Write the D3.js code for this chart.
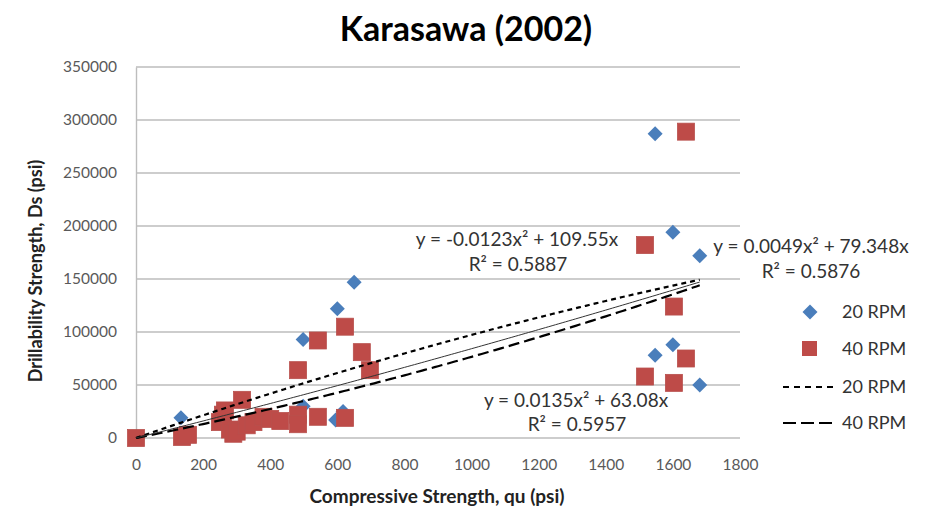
<!DOCTYPE html>
<html>
<head>
<meta charset="utf-8">
<script src="https://cdn.jsdelivr.net/npm/d3@7/dist/d3.min.js"></script>
<style>
  html, body { margin: 0; padding: 0; background: #fff; }
  svg text { font-family: Lato, "Open Sans", sans-serif; }
</style>
</head>
<body>
<svg id="chart" width="930" height="510"></svg>
<script>
// Compressive strength (psi) vs drillability strength (psi)
const rpm20X = [134, 498, 498, 600, 650, 595, 617, 1547, 1600, 1680, 1547, 1600, 1680];
const rpm20Y = [19000, 93000, 30000, 122000, 147000, 17000, 25000, 287000, 194000, 172000, 78000, 88000, 50000];

const rpm40X = [0, 137, 155, 250, 259, 265, 280, 290, 300, 316, 330, 350, 380, 400, 430, 483, 483, 483, 542, 542, 623, 623, 673, 697,
                1517, 1517, 1603, 1603, 1639, 1639];
const rpm40Y = [0, 1000, 3000, 15000, 22000, 26000, 8000, 4000, 6000, 36000, 12000, 15000, 20000, 18000, 16000, 64000, 22000, 13000,
                92000, 20000, 105000, 19000, 81000, 64000,
                182000, 58000, 124000, 52000, 289000, 75000];

// Polynomial trendlines through the origin: y = a*x^2 + b*x
const trendNames = ["20 RPM", "40 RPM", "All"];
const trendA = [-0.0123, 0.0135, 0.0049];
const trendB = [109.55, 63.08, 79.348];
const trendR2 = ["0.5887", "0.5957", "0.5876"];
const trendXMax = 1680;

const xTicks = [0, 200, 400, 600, 800, 1000, 1200, 1400, 1600, 1800];
const yTicks = [0, 50000, 100000, 150000, 200000, 250000, 300000, 350000];

(function draw() {
  const svg = d3.select("#chart");
  const pLeft = 136, pRight = 740, pTop = 67, pBottom = 438;

  const x = d3.scaleLinear().domain([0, 1800]).range([pLeft, pRight]);
  const y = d3.scaleLinear().domain([0, 350000]).range([pBottom, pTop]);

  // Title
  svg.append("text")
    .attr("x", 466).attr("y", 41)
    .attr("text-anchor", "middle")
    .attr("font-size", 34).attr("font-weight", 700).attr("fill", "#000")
    .text("Karasawa (2002)");

  // Horizontal gridlines
  svg.append("g")
    .selectAll("line").data(yTicks).join("line")
    .attr("x1", pLeft).attr("x2", pRight)
    .attr("y1", d => y(d)).attr("y2", d => y(d))
    .attr("stroke", "#bdbdbd").attr("stroke-width", 1.4);

  // Y axis
  const yAxis = svg.append("g")
    .attr("transform", `translate(${pLeft},0)`)
    .call(d3.axisLeft(y).tickValues(yTicks).tickFormat(d3.format("d")).tickSize(0).tickPadding(19));
  yAxis.select(".domain").attr("stroke", "#bdbdbd").attr("stroke-width", 1.4);
  yAxis.selectAll("text").attr("font-size", 15.5).attr("fill", "#595959")
    .attr("font-family", "Lato, sans-serif");

  // X axis
  const xAxis = svg.append("g")
    .attr("transform", `translate(0,${pBottom})`)
    .call(d3.axisBottom(x).tickValues(xTicks).tickFormat(d3.format("d")).tickSize(0).tickPadding(21));
  xAxis.select(".domain").remove();
  xAxis.selectAll("text").attr("font-size", 15.5).attr("fill", "#595959")
    .attr("font-family", "Lato, sans-serif");

  // Axis titles
  svg.append("text")
    .attr("x", 437).attr("y", 503)
    .attr("text-anchor", "middle")
    .attr("font-size", 19).attr("font-weight", 700).attr("fill", "#222")
    .text("Compressive Strength, qu (psi)");
  svg.append("text")
    .attr("transform", "translate(42,271) rotate(-90)")
    .attr("text-anchor", "middle")
    .attr("font-size", 18).attr("font-weight", 700).attr("fill", "#222")
    .text("Drillability Strength, Ds (psi)");

  const blue = "#4a7ebb", red = "#be4b48";

  // 20 RPM points (diamonds)
  const r = 7.5;
  const diamondPath = `M0,${-r}L${r},0L0,${r}L${-r},0Z`;
  svg.append("g")
    .selectAll("path").data(d3.range(rpm20X.length)).join("path")
    .attr("d", diamondPath)
    .attr("transform", i => `translate(${x(rpm20X[i])},${y(rpm20Y[i])})`)
    .attr("fill", blue);

  // 40 RPM points (squares)
  const sq = 17;
  svg.append("g")
    .selectAll("rect").data(d3.range(rpm40X.length)).join("rect")
    .attr("x", i => x(rpm40X[i]) - sq / 2)
    .attr("y", i => y(rpm40Y[i]) - sq / 2)
    .attr("width", sq).attr("height", sq)
    .attr("fill", red).attr("stroke", "#b8504d").attr("stroke-width", 0.8);

  // Trendlines
  const xs = d3.range(0, trendXMax + 1, 10);
  const line = d3.line().x(d => x(d[0])).y(d => y(d[1]));
  const dashes = ["5,4", "11,5", null];
  const widths = [2.2, 2.2, 1];
  trendNames.forEach((name, k) => {
    const pts = xs.map(v => [v, trendA[k] * v * v + trendB[k] * v]);
    svg.append("path")
      .attr("d", line(pts))
      .attr("fill", "none")
      .attr("stroke", k === 2 ? "#333" : "#000")
      .attr("stroke-width", widths[k])
      .attr("stroke-dasharray", dashes[k]);
  });

  // Trendline equations
  function fmtEq(k) {
    const a = trendA[k];
    return "y = " + (a < 0 ? "-" : "") + Math.abs(a) + "x\u00B2 + " + trendB[k] + "x";
  }
  const eqPos = [[517, 246, 518, 271], [576, 407, 577, 431], [811, 253, 811, 278]];
  trendNames.forEach((name, k) => {
    const p = eqPos[k];
    svg.append("text").attr("x", p[0]).attr("y", p[1]).attr("text-anchor", "middle")
      .attr("font-size", 19).attr("fill", "#333").text(fmtEq(k));
    svg.append("text").attr("x", p[2]).attr("y", p[3]).attr("text-anchor", "middle")
      .attr("font-size", 19).attr("fill", "#333").text("R\u00B2 = " + trendR2[k]);
  });

  // Legend
  const lg = svg.append("g");
  const legendRows = [
    { label: "20 RPM", kind: "diamond", y: 312 },
    { label: "40 RPM", kind: "square", y: 349 },
    { label: "20 RPM", kind: "dash20", y: 387 },
    { label: "40 RPM", kind: "dash40", y: 423 }
  ];
  legendRows.forEach(row => {
    if (row.kind === "diamond") {
      lg.append("path").attr("d", diamondPath)
        .attr("transform", `translate(810,${row.y})`).attr("fill", blue);
    } else if (row.kind === "square") {
      lg.append("rect").attr("x", 802).attr("y", row.y - 8).attr("width", 15).attr("height", 15)
        .attr("fill", red);
    } else {
      lg.append("line").attr("x1", 783).attr("x2", 836).attr("y1", row.y).attr("y2", row.y)
        .attr("stroke", "#000").attr("stroke-width", 2)
        .attr("stroke-dasharray", row.kind === "dash20" ? "6,5" : "13,5");
    }
    lg.append("text").attr("x", 842).attr("y", row.y + 6)
      .attr("font-size", 18).attr("fill", "#333").text(row.label);
  });
})();
</script>
</body>
</html>
